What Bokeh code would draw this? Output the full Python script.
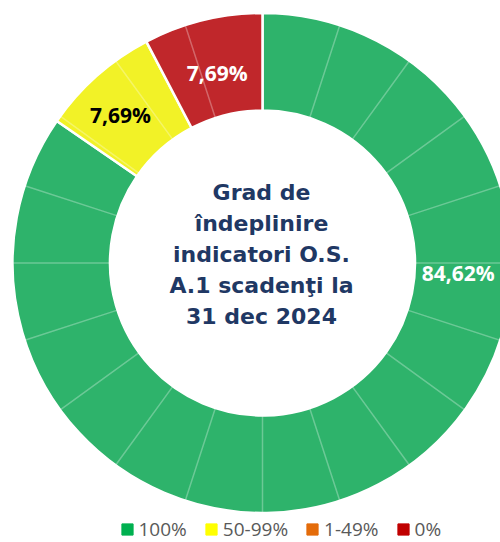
import math
from bokeh.plotting import figure
from bokeh.models import Range1d, Legend, LegendItem, ColumnDataSource
from bokeh.core.properties import value
from bokeh.embed import file_html
from bokeh.resources import INLINE

# ---- data ----
categories = ["100%", "50-99%", "1-49%", "0%"]
shares = [84.62, 7.69, 0.0, 7.69]
slice_colors = ["#2EB36B", "#F2F227", "#E97510", "#C0272B"]
legend_colors = ["#00B050", "#FFFF00", "#E46C0A", "#C00000"]
label_colors = ["#FFFFFF", "#000000", "#FFFFFF", "#FFFFFF"]
title_lines = ["Grad de", "îndeplinire", "indicatori O.S.", "A.1 scadenţi la", "31 dec 2024"]
grid_segments = 20

# ---- layout constants ----
W, H = 500, 542
CX, CY = 262, 279.5
R_OUT, R_IN = 250, 152.5
# label placement: (angle clockwise from top in degrees, radius)
LABEL_POS = {"100%": (92.8, 196), "50-99%": (316.1, 205), "0%": (346.6, 195)}

p = figure(width=W, height=H, x_range=Range1d(0, W), y_range=Range1d(0, H),
           output_backend="svg", toolbar_location=None, min_border=0,
           x_axis_type=None, y_axis_type=None)
p.grid.visible = False
p.outline_line_color = None
p.background_fill_color = "white"
p.border_fill_color = "white"

# slices
total = sum(shares)
cum = 0.0
st, en, cols, labs, lx, ly, lc = [], [], [], [], [], [], []
for cat, s, c, tc in zip(categories, shares, slice_colors, label_colors):
    a0 = math.pi / 2 - 2 * math.pi * cum / total
    cum += s
    a1 = math.pi / 2 - 2 * math.pi * cum / total
    if s <= 0:
        continue
    st.append(a0); en.append(a1); cols.append(c)
    ang, r = LABEL_POS[cat]
    ar = math.radians(ang)
    lx.append(CX + r * math.sin(ar)); ly.append(CY + r * math.cos(ar))
    labs.append(f"{s:.2f}".replace(".", ",") + "%"); lc.append(tc)

src = ColumnDataSource(dict(start=st, end=en, color=cols))
p.annular_wedge(x=CX, y=CY, inner_radius=R_IN, outer_radius=R_OUT,
                start_angle="start", end_angle="end", direction="clock",
                fill_color="color", line_color="white", line_width=2.5, source=src)

# faint background segmentation
gs = [math.pi / 2 - 2 * math.pi * i / grid_segments for i in range(grid_segments)]
ge = [math.pi / 2 - 2 * math.pi * (i + 1) / grid_segments for i in range(grid_segments)]
p.annular_wedge(x=CX, y=CY, inner_radius=R_IN, outer_radius=R_OUT,
                start_angle=gs, end_angle=ge, direction="clock",
                fill_alpha=0, line_color="white", line_alpha=0.16, line_width=1.5)

# slice labels
lsrc = ColumnDataSource(dict(x=lx, y=ly, text=labs, color=lc))
p.text(x="x", y="y", text="text", text_color="color", source=lsrc,
       text_align="center", text_baseline="middle",
       text_font=value("Open Sans"), text_font_style="bold", text_font_size="21px")

# centre title
ty = [CY + 70.5 - 31 * i for i in range(len(title_lines))]
p.text(x=[CX - 1] * len(title_lines), y=ty, text=title_lines,
       text_align="center", text_baseline="middle",
       text_font=value("DejaVu Sans"), text_font_style="bold",
       text_font_size="22px", text_color="#1F3864")

# legend (swatch renderers kept outside the visible range)
items = []
for cat, c in zip(categories, legend_colors):
    r = p.quad(left=[-100], right=[-90], top=[-90], bottom=[-100],
               fill_color=c, line_color=c)
    items.append(LegendItem(label=cat, renderers=[r]))
legend = Legend(items=items, orientation="horizontal", location=(119.5, 0),
                glyph_width=14, glyph_height=14, label_standoff=5, spacing=17,
                padding=0, margin=0, border_line_color=None, background_fill_alpha=0,
                label_text_font="Open Sans", label_text_font_size="19px",
                label_text_color="#595959")
p.add_layout(legend)

open("out.html", "w").write(file_html(p, INLINE))
